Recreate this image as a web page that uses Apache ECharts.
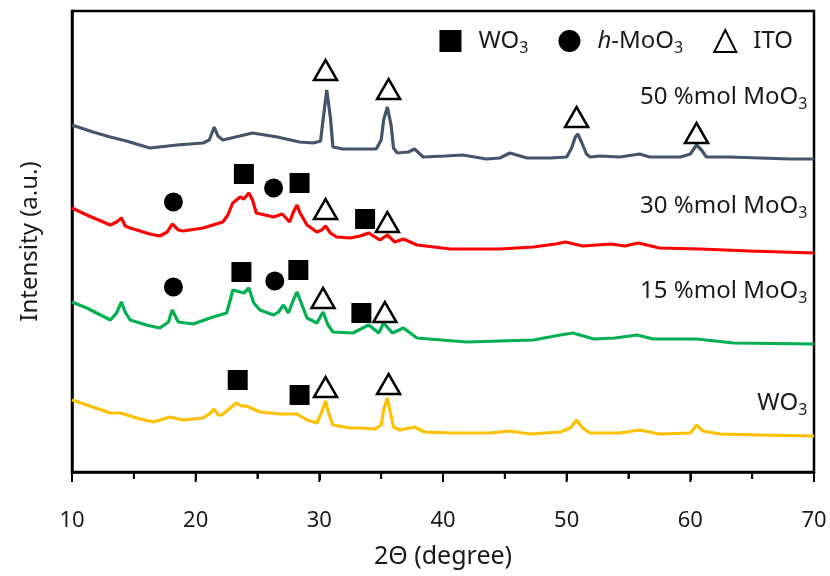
<!DOCTYPE html>
<html>
<head>
<meta charset="utf-8">
<script src="https://cdn.jsdelivr.net/npm/echarts@6/dist/echarts.min.js"></script>
<style>html,body{margin:0;padding:0;background:#fff}#c{width:830px;height:576px}</style>
</head>
<body>
<div id="c"></div>
<script>
// ---- data (2θ in degree, intensity in a.u. with vertical offsets) ----
const xTicks = [10, 20, 30, 40, 50, 60, 70];
const xMinorTicks = [15, 25, 35, 45, 55, 65];

const mol50 = [[10.0,347],[11.7,340],[13.1,335],[14.4,331],[16.3,324],[18.5,327],[20.6,329],[21.1,332],[21.5,345],[21.8,336],[22.2,332],[24.6,339],[26.6,335],[28.4,330],[29.5,329],[30.1,331],[30.3,352],[30.6,382],[30.9,354],[31.1,325],[31.9,323],[34.6,323],[35.0,332],[35.2,352],[35.5,365],[35.8,347],[36.0,324],[36.3,319],[37.2,320],[37.7,323],[38.4,315],[40.2,316],[41.6,317],[43.5,313],[44.6,314],[45.4,319],[46.8,314],[48.7,314],[50.0,315],[50.4,324],[50.7,335],[50.9,338],[51.2,330],[51.6,318],[51.9,315],[52.7,316],[54.3,315],[55.9,318],[56.7,315],[59.2,315],[60.0,318],[60.5,327],[60.9,322],[61.3,315],[63.2,315],[65.6,314],[68.1,313],[70.0,313]];

const mol30 = [[10.0,264],[11.2,257],[13.1,247],[13.6,250],[14.0,254],[14.3,246],[14.7,244],[16.3,238],[17.1,236],[17.7,240],[18.1,248],[18.6,242],[19.0,241],[20.6,244],[22.2,250],[22.6,257],[23.0,269],[23.6,275],[23.9,273],[24.3,279],[24.6,272],[24.9,259],[26.3,255],[27.0,258],[27.6,250],[27.9,260],[28.2,267],[28.4,260],[29.0,247],[29.8,240],[30.2,242],[30.5,246],[30.9,239],[31.4,235],[32.5,234],[33.3,236],[34.0,239],[34.5,235],[34.9,232],[35.5,237],[36.1,230],[36.8,233],[37.9,227],[40.6,223],[44.6,223],[47.3,225],[49.1,228],[49.9,230],[51.3,226],[53.6,228],[54.7,226],[55.8,229],[57.5,224],[60.8,223],[64.8,221],[70.0,219]];

const mol15 = [[10.0,170],[11.2,164],[13.1,152],[13.6,159],[14.0,170],[14.3,160],[14.7,152],[16.0,147],[17.1,144],[17.8,150],[18.1,162],[18.6,150],[19.8,148],[21.4,155],[22.5,159],[22.8,172],[23.0,182],[23.6,180],[23.9,179],[24.3,184],[24.7,169],[25.2,162],[26.3,157],[26.7,160],[27.1,167],[27.5,159],[27.9,172],[28.2,180],[28.6,167],[29.0,154],[29.8,149],[30.3,160],[30.7,147],[31.1,140],[32.7,139],[34.0,147],[34.8,139],[35.2,149],[35.9,139],[36.8,144],[37.9,134],[41.9,130],[47.3,132],[49.5,137],[50.5,139],[52.2,133],[53.9,134],[55.7,137],[57.0,133],[60.5,133],[63.5,129],[70.0,128]];

const wo3 = [[10.0,72],[11.2,67],[13.1,59],[13.9,59],[15.5,53],[16.6,50],[17.9,55],[19.0,52],[20.6,54],[21.1,58],[21.5,63],[21.8,57],[22.1,57],[22.8,64],[23.3,69],[23.7,66],[24.1,66],[25.2,60],[26.8,58],[28.2,58],[29.0,52],[29.8,49],[30.1,57],[30.5,71],[30.8,57],[31.1,47],[32.5,44],[33.3,44],[34.5,43],[35.0,47],[35.2,62],[35.5,74],[35.7,62],[36.0,45],[36.5,42],[37.7,45],[38.5,40],[40.6,39],[43.8,39],[45.4,41],[47.0,38],[49.5,40],[50.3,44],[50.8,52],[51.3,44],[51.9,39],[54.3,39],[55.9,42],[57.5,38],[60.0,39],[60.5,47],[61.0,41],[62.4,38],[65.6,37],[70.0,36]];

// phase markers (2θ, a.u.)
const markWO3 = [[23.9,298],[28.4,289],[33.7,253],[23.7,200],[28.3,202],[33.4,159],[23.4,92],[28.4,77]];
const markMoO3 = [[18.2,270],[26.3,284],[18.2,185],[26.4,191]];
const markITO = [[30.5,402],[35.6,383],[50.8,355],[60.5,339],[30.5,263],[35.5,250],[30.3,174],[35.3,160],[30.5,85],[35.6,88]];

// curve captions: anchor (2θ, a.u.), main text, subscript
const captions = [
  [69.5, 375, '50 %mol MoO', '3'],
  [69.5, 266, '30 %mol MoO', '3'],
  [69.5, 181, '15 %mol MoO', '3'],
  [69.5, 69, 'WO', '3']
];

const FONT = 'Noto Sans';
const TXT = '#1a1a1a';
const MAJOR_LEN = 10, MINOR_LEN = 7;
const chart = echarts.init(document.getElementById('c'), null, {renderer: 'canvas'});

const lineSeries = (name, data, color) => ({
  name, type: 'line', data, showSymbol: false, symbol: 'none',
  lineStyle: {color, width: 3.2}, smooth: false, z: 2, silent: true
});

// tick marks drawn through the x scale (major + minor)
const tickData = xTicks.map(v => [v, 0, MAJOR_LEN]).concat(xMinorTicks.map(v => [v, 0, MINOR_LEN]));

chart.setOption({
  animation: false,
  backgroundColor: '#fff',
  grid: {left: 72, right: 16, top: 11, bottom: 104, show: true, borderColor: '#000', borderWidth: 2.5},
  legend: {
    data: ['WO3', 'h-MoO3', 'ITO'],
    top: 24, right: 32, itemGap: 30, itemWidth: 22, itemHeight: 22,
    textStyle: {
      fontFamily: FONT, fontSize: 24, color: TXT,
      rich: {
        g: {width: 12},
        n: {fontFamily: FONT, fontSize: 24, color: TXT},
        i: {fontFamily: FONT, fontSize: 24, color: TXT, fontStyle: 'italic'},
        s: {fontFamily: FONT, fontSize: 16, color: TXT, padding: [14, 0, 0, 0]}
      }
    },
    formatter: function (n) {
      if (n === 'WO3') return '{g|}{n|WO}{s|3}';
      if (n === 'h-MoO3') return '{g|}{i|h}{n|-MoO}{s|3}';
      return '{g|}{n|ITO}';
    }
  },
  xAxis: {
    type: 'value', min: xTicks[0], max: xTicks[xTicks.length - 1], interval: 10,
    name: '2Θ (degree)', nameLocation: 'middle', nameGap: 72,
    nameTextStyle: {fontFamily: FONT, fontSize: 25, color: TXT},
    axisLine: {show: true, onZero: false, lineStyle: {color: '#000', width: 2.5}},
    axisTick: {show: true, inside: false, length: 8, lineStyle: {color: '#000', width: 2}},
    minorTick: {show: true, splitNumber: 2, length: 6, lineStyle: {color: '#000', width: 2}},
    axisLabel: {fontFamily: FONT, fontSize: 22, color: TXT, margin: 38},
    splitLine: {show: false}
  },
  yAxis: {
    type: 'value', min: 0, max: 461,
    name: 'Intensity (a.u.)', nameLocation: 'middle', nameGap: 30,
    nameTextStyle: {fontFamily: FONT, fontSize: 24, color: TXT},
    axisLine: {show: true, lineStyle: {color: '#000', width: 2.5}},
    axisTick: {show: false}, axisLabel: {show: false}, splitLine: {show: false}
  },
  series: [
    lineSeries('50%', mol50, '#44546A'),
    lineSeries('30%', mol30, '#FF0000'),
    lineSeries('15%', mol15, '#00B050'),
    lineSeries('WO3 pattern', wo3, '#FFC000'),
    {name: 'WO3', type: 'scatter', data: markWO3, symbol: 'rect', symbolSize: 20,
      itemStyle: {color: '#000', opacity: 1}, z: 5},
    {name: 'h-MoO3', type: 'scatter', data: markMoO3, symbol: 'circle', symbolSize: 19,
      itemStyle: {color: '#000', opacity: 1}, z: 5},
    {name: 'ITO', type: 'scatter', data: markITO, symbol: 'triangle', symbolSize: [23, 20],
      itemStyle: {color: 'rgba(255,255,255,0)', borderColor: '#000', borderWidth: 2.5, opacity: 1}, z: 5},
    {name: 'captions', type: 'scatter', symbol: 'circle', symbolSize: 1, z: 6, silent: true,
      itemStyle: {color: 'rgba(0,0,0,0)', opacity: 1},
      data: captions.map(c => ({value: [c[0], c[1]], main: c[2], sub: c[3]})),
      label: {
        show: true, position: 'left', distance: 0,
        formatter: p => '{n|' + p.data.main + '}{s|' + p.data.sub + '}',
        rich: {
          n: {fontFamily: FONT, fontSize: 24, color: TXT},
          s: {fontFamily: FONT, fontSize: 16, color: TXT, padding: [14, 0, 0, 0]}
        }
      }
    },
    {name: 'ticks', type: 'custom', silent: true, clip: false, z: 10,
      data: tickData, encode: {x: 0, y: 1},
      renderItem: function (params, api) {
        const p = api.coord([api.value(0), api.value(1)]);
        const len = api.value(2);
        return {type: 'line', shape: {x1: p[0], y1: p[1], x2: p[0], y2: p[1] + len},
          style: {stroke: '#000', lineWidth: 2}};
      }
    }
  ]
});
</script>
</body>
</html>
